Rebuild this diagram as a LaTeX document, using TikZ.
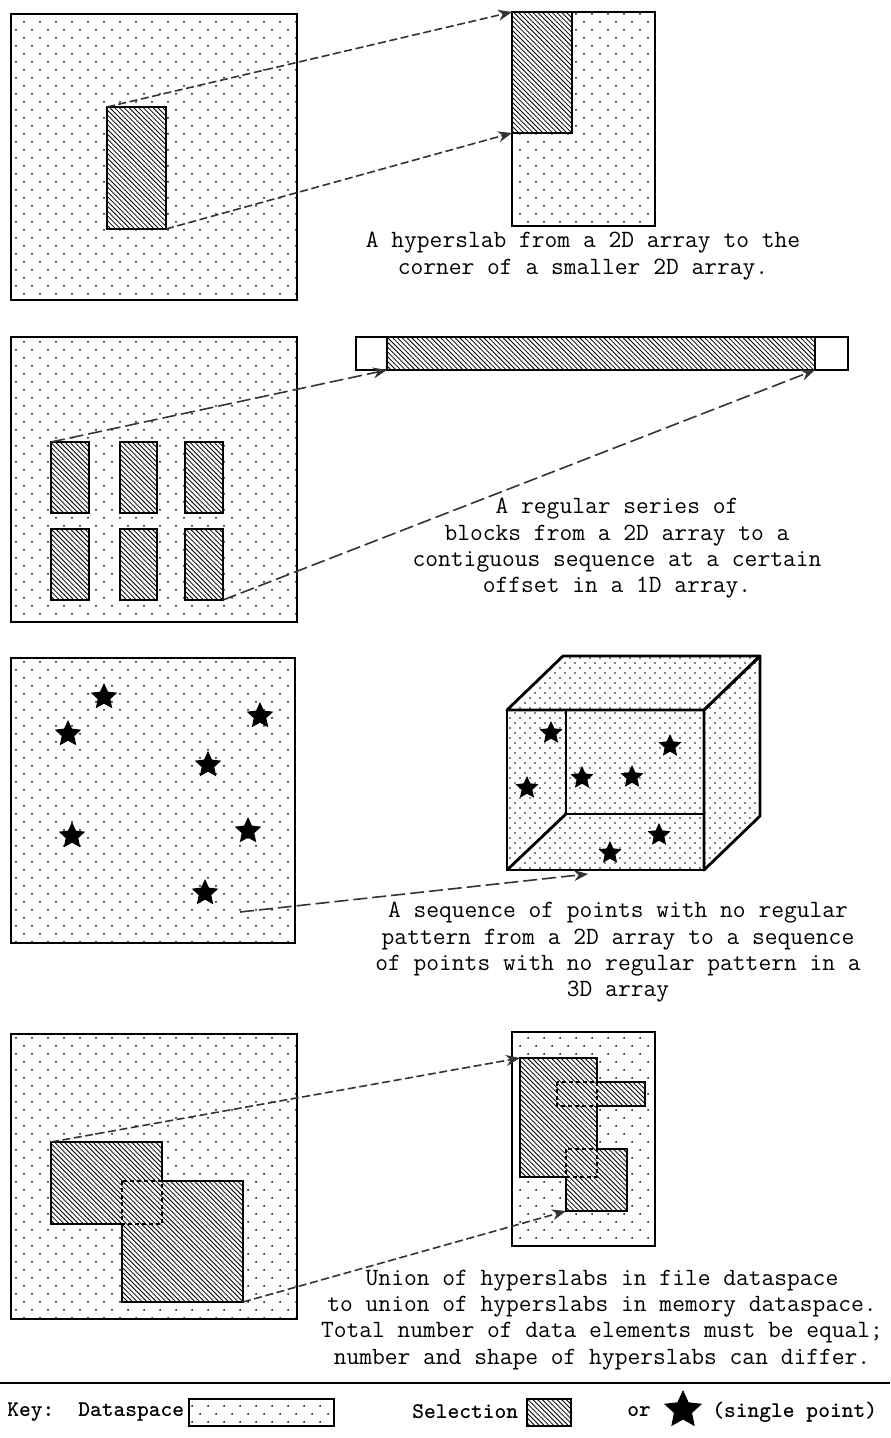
\documentclass[tikz,border=0pt]{standalone}
\usepackage{fontspec}
\usetikzlibrary{arrows.meta, positioning, calc, fit, patterns, shapes.geometric}

\newcommand\capfont{\ttfamily\fontsize{12.4}{13.15}\selectfont}
\newcommand\keyfont{\ttfamily\bfseries\fontsize{11.2}{12}\selectfont}

% fill patterns
\pgfdeclarepatternformonly{sparsedots}{\pgfqpoint{-1pt}{-1pt}}{\pgfqpoint{9pt}{9pt}}{\pgfqpoint{8pt}{8pt}}{%
  \pgfpathcircle{\pgfqpoint{0pt}{0pt}}{0.5pt}%
  \pgfpathcircle{\pgfqpoint{4pt}{4pt}}{0.5pt}%
  \pgfusepath{fill}}
\pgfdeclarepatternformonly{densedots}{\pgfqpoint{-1pt}{-1pt}}{\pgfqpoint{6pt}{6pt}}{\pgfqpoint{5pt}{5pt}}{%
  \pgfpathcircle{\pgfqpoint{0pt}{0pt}}{0.45pt}%
  \pgfpathcircle{\pgfqpoint{2.5pt}{2.5pt}}{0.45pt}%
  \pgfusepath{fill}}
\pgfdeclarepatternformonly{hatch}{\pgfqpoint{-1pt}{-1pt}}{\pgfqpoint{3.5pt}{3.5pt}}{\pgfqpoint{2.4pt}{2.4pt}}{%
  \pgfsetlinewidth{0.4pt}%
  \pgfpathmoveto{\pgfqpoint{0pt}{2.4pt}}%
  \pgfpathlineto{\pgfqpoint{2.5pt}{-0.1pt}}%
  \pgfusepath{stroke}}

\begin{document}
\begin{tikzpicture}[
    x=0.5pt, y=-0.5pt,
    >={Stealth[length=7pt, width=5.5pt]},
    dataspace/.style={draw, line width=0.8pt, pattern=sparsedots, inner sep=0pt, outer sep=0pt},
    selection/.style={draw, line width=0.8pt, preaction={fill=white}, pattern=hatch, inner sep=0pt, outer sep=0pt},
    slabfill/.style={preaction={fill=white}, pattern=hatch, inner sep=0pt, outer sep=0pt},
    outline/.style={line width=0.8pt, line join=miter},
    overlap/.style={line width=0.6pt, dash pattern=on 2pt off 1.5pt},
    cubeface/.style={draw, line width=1.4pt, pattern=densedots, inner sep=0pt, outer sep=0pt},
    cubeside/.style={line width=1.4pt, line join=round, pattern=densedots},
    elem/.style={star, star points=5, star point ratio=2.1, fill=black, inner sep=0pt, minimum size=14pt},
    shortlink/.style={->, black!80, line width=0.8pt, dash pattern=on 4pt off 1.8pt},
    longlink/.style={->, black!80, line width=0.8pt, dash pattern=on 7pt off 2.5pt},
    caption/.style={align=center, font=\capfont, inner sep=0pt},
    keytext/.style={font=\keyfont, inner sep=1pt, anchor=west}
]
  \useasboundingbox (0,0) rectangle (890,1438);

  % Hyperslab to the corner of a smaller array
  \node[dataspace, fit={(11,14) (297,300)}] (fileA) {};
  \node[selection, fit={(107,107) (166,229)}] (slabA) {};
  \node[dataspace, fit={(512,12) (655,226)}] (memA) {};
  \node[selection, fit={(512,12) (572,133)}] (mslabA) {};
  \draw[shortlink] (slabA.north west) -- (mslabA.north west);
  \draw[shortlink] (slabA.south east) -- (mslabA.south west);
  \node[caption] (capA) at (583,256) {A hyperslab from a 2D array to the\\corner of a smaller 2D array.};

  % Regular series of blocks to a 1D array
  \node[dataspace, fit={(11,337) (297,622)}] (fileB) {};
  \foreach \r/\ya/\yb in {1/442/513, 2/529/600}{
    \foreach \c/\xa/\xb in {1/51/89, 2/120/157, 3/185/223}{
      \node[selection, fit={(\xa,\ya) (\xb,\yb)}] (blk\r\c) {};
    }
  }
  \node[draw, line width=0.8pt, fill=white, inner sep=0pt, outer sep=0pt, fit={(356,337) (848,370)}] (memB) {};
  \node[selection, fit={(387,337) (815,370)}] (runB) {};
  \draw[longlink] (blk11.north west) -- (runB.south west);
  \draw[longlink] (blk23.south east) -- (runB.south east);
  \node[caption] (capB) at (617,548.5) {A regular series of\\blocks from a 2D array to a\\contiguous sequence at a certain\\offset in a 1D array.};

  % Irregular points to a 3D array
  \node[dataspace, fit={(11,658) (295,943)}] (fileC) {};
  \foreach \i/\x/\y in {1/104/697, 2/68/734, 3/260/716, 4/208/765, 5/72/836, 6/248/831, 7/205/893}{
    \node[elem] (fstar\i) at (\x,\y) {};
  }
  \node[cubeface, fit={(507,710) (704,870)}] (cubefront) {};
  \filldraw[cubeside] (cubefront.north west) -- ++(56,-54) -- ++(197,0) -- (cubefront.north east) -- cycle;
  \filldraw[cubeside] (cubefront.north east) -- ++(56,-54) -- ++(0,160) -- (cubefront.south east) -- cycle;
  \coordinate (cubeIC) at (566,814);
  \draw[line width=1.4pt] (cubeIC |- cubefront.north) -- (cubeIC) -- (cubeIC -| cubefront.east);
  \draw[line width=1.4pt] (cubefront.south west) -- (cubeIC);
  \foreach \i/\x/\y in {1/551/733, 2/527/788, 3/582/778, 4/632/777, 5/670/746, 6/659/835, 7/610/853}{
    \node[elem, minimum size=12pt] (mstar\i) at (\x,\y) {};
  }
  \coordinate (ptsrc) at (240,912);
  \coordinate (ptdst) at (588,874);
  \draw[longlink] (ptsrc) -- (ptdst);
  \node[caption] (capC) at (618,952.5) {A sequence of points with no regular\\pattern from a 2D array to a sequence\\of points with no regular pattern in a\\3D array};

  % Union of hyperslabs
  \node[dataspace, fit={(11,1034) (297,1319)}] (fileD) {};
  \node[slabfill, fit={(51,1142) (162,1224)}] (unA) {};
  \node[slabfill, fit={(122,1181) (243,1302)}] (unB) {};
  \draw[overlap] (unB.north west) rectangle (unA.south east);
  \draw[outline] (unA.north west) -- (unA.north east) -- (unA.east |- unB.north) -- (unB.north east)
    -- (unB.south east) -- (unB.south west) -- (unB.west |- unA.south) -- (unA.south west) -- cycle;
  \node[dataspace, fit={(512,1032) (655,1246)}] (memD) {};
  \node[slabfill, fit={(520,1058) (597,1177)}] (munA) {};
  \node[slabfill, fit={(557,1082) (645,1106)}] (munB) {};
  \node[slabfill, fit={(566,1149) (627,1211)}] (munC) {};
  \draw[overlap] (munB.north west) rectangle (munA.east |- munB.south);
  \draw[overlap] (munC.north west) rectangle (munA.south east);
  \draw[outline] (munA.north west) -- (munA.north east) -- (munA.east |- munB.north) -- (munB.north east)
    -- (munB.south east) -- (munA.east |- munB.south) -- (munA.east |- munC.north) -- (munC.north east)
    -- (munC.south east) -- (munC.south west) -- (munC.west |- munA.south) -- (munA.south west) -- cycle;
  \draw[shortlink] (unA.north west) -- (munA.north west);
  \draw[shortlink] (unB.south east) -- (munC.south west);
  \node[caption] (capD) at (602,1320) {Union of hyperslabs in file dataspace\\to union of hyperslabs in memory dataspace.\\Total number of data elements must be equal;\\number and shape of hyperslabs can differ.};

  % Key
  \draw[line width=1pt] (0,1383) -- (890,1383);
  \node[keytext] (keyK) at (5,1412) {Key:};
  \node[keytext] (keyD) at (76,1412) {Dataspace};
  \node[dataspace, fit={(189,1399) (334,1426)}] (keyDbox) {};
  \node[keytext] (keyS) at (410,1412) {Selection};
  \node[selection, fit={(527,1399) (571,1426)}] (keySbox) {};
  \node[keytext] (keyO) at (625,1412) {or};
  \node[elem, minimum size=20pt] (keyP) at (683,1410) {};
  \node[keytext] (keyPt) at (710,1412) {(single point)};
\end{tikzpicture}
\end{document}
